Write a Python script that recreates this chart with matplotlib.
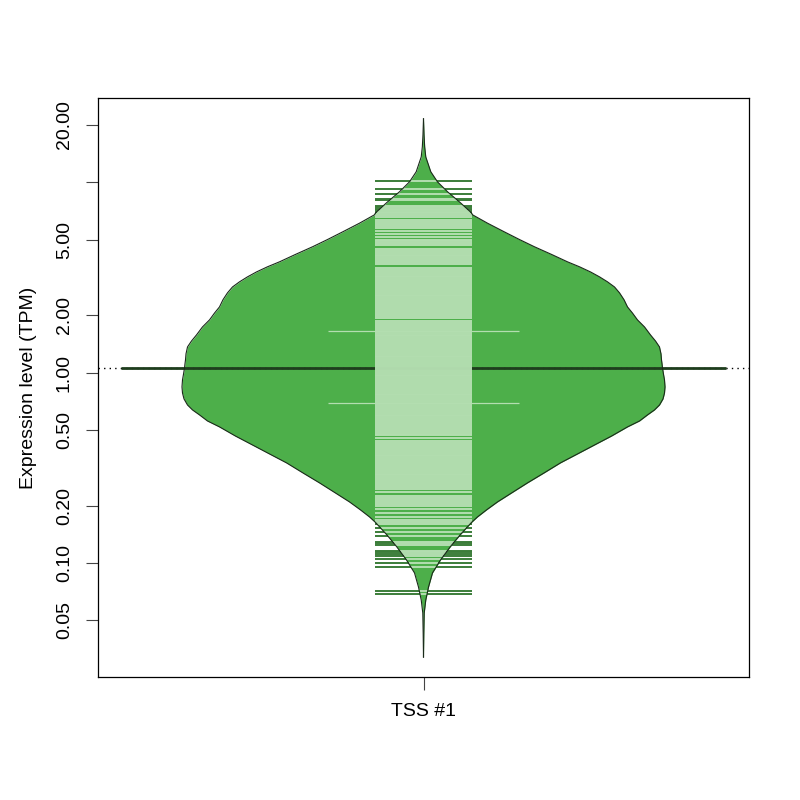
import numpy as np
import matplotlib
matplotlib.use("Agg")
import matplotlib.pyplot as plt

plt.rcParams['font.family'] = ['Liberation Sans', 'DejaVu Sans']

# bean outline: log10(TPM) level and half width (x units)
bean_log10 = [1.333, 1.25, 1.186, 1.133, 1.055, 1.002, 0.950, 0.892, 0.839,
              0.829, 0.785, 0.739, 0.699, 0.661, 0.621, 0.582, 0.556, 0.529,
              0.503, 0.477, 0.450, 0.419, 0.383, 0.345, 0.313, 0.277, 0.240,
              0.198, 0.166, 0.135, 0.099, 0.067, 0.046, 0.025, -0.007,
              -0.038, -0.075, -0.107, -0.138, -0.170, -0.196, -0.222, -0.254,
              -0.285, -0.333, -0.380, -0.427, -0.474, -0.527, -0.579, -0.629,
              -0.679, -0.721, -0.758, -0.787, -0.850, -0.913, -0.984, -1.052,
              -1.126, -1.194, -1.262, -1.367, -1.494]
bean_half = [0.0, 0.0008, 0.0018, 0.0035, 0.0112, 0.0215, 0.0369, 0.0568,
             0.0737, 0.0753, 0.0983, 0.1244, 0.1475, 0.1705, 0.1966, 0.2212,
             0.2396, 0.2565, 0.2704, 0.2826, 0.2934, 0.3011, 0.3080, 0.3134,
             0.3210, 0.3287, 0.3395, 0.3487, 0.3564, 0.3625, 0.3648, 0.3656,
             0.3664, 0.3671, 0.3686, 0.3702, 0.3710, 0.3702, 0.3679, 0.3625,
             0.3548, 0.3441, 0.3318, 0.3134, 0.2889, 0.2627, 0.2366, 0.2104,
             0.1851, 0.1598, 0.1367, 0.1137, 0.0968, 0.0829, 0.0737, 0.0568,
             0.0415, 0.0261, 0.0138, 0.0077, 0.0035, 0.0011, 0.0005, 0.0]

# individual observations (log10 TPM), one beanline each
obs_log10 = [
    1.009, 0.964, 0.937, 0.913, 0.908, 0.876, 0.868, 0.860, 0.852, 0.846,
    0.84, 0.83, 0.818, 0.802, 0.79, 0.78, 0.77, 0.758, 0.744, 0.730, 0.714,
    0.698, 0.69, 0.68, 0.668, 0.652, 0.64, 0.63, 0.62, 0.61, 0.60, 0.59, 0.58,
    0.568, 0.552, 0.54, 0.53, 0.52, 0.51, 0.50, 0.49, 0.48, 0.47, 0.46, 0.45,
    0.44, 0.43, 0.42, 0.41, 0.40, 0.39, 0.38, 0.37, 0.36, 0.35, 0.34, 0.33,
    0.32, 0.31, 0.30, 0.287, 0.273, 0.26, 0.25, 0.24, 0.23, 0.22, 0.21, 0.20,
    0.19, 0.18, 0.17, 0.16, 0.15, 0.14, 0.13, 0.12, 0.11, 0.10, 0.09, 0.08,
    0.07, 0.06, 0.05, 0.04, 0.03, 0.02, 0.01, 0.00, -0.01, -0.02, -0.03,
    -0.04, -0.05, -0.06, -0.07, -0.08, -0.09, -0.10, -0.11, -0.12, -0.13,
    -0.14, -0.15, -0.16, -0.17, -0.18, -0.19, -0.20, -0.21, -0.22, -0.23,
    -0.24, -0.25, -0.26, -0.27, -0.28, -0.29, -0.30, -0.31, -0.32, -0.33,
    -0.342, -0.358, -0.37, -0.38, -0.39, -0.40, -0.41, -0.42, -0.43, -0.44,
    -0.45, -0.46, -0.47, -0.48, -0.49, -0.50, -0.51, -0.52, -0.53, -0.54,
    -0.55, -0.56, -0.57, -0.58, -0.59, -0.60, -0.612, -0.628, -0.646, -0.66,
    -0.67, -0.68, -0.69, -0.698, -0.718, -0.739, -0.757, -0.775, -0.785,
    -0.795, -0.816, -0.835, -0.858, -0.888, -0.895, -0.905, -0.935, -0.944,
    -0.953, -0.963, -0.979, -1.002, -1.019, -1.146, -1.164]

mean_tpm = 1.058
quantile_tpm = [1.656, 0.693]

category = "TSS #1"
ytick_vals = [0.05, 0.1, 0.2, 0.5, 1, 2, 5, 10, 20]
ytick_labels = ["0.05", "0.10", "0.20", "0.50", "1.00", "2.00", "5.00", "", "20.00"]

fill_col = "#4DAF4A"
light_col = "#B3DEB0"
dark_col = "#3B7D39"
avg_col = "#1E3D1D"

fig = plt.figure(figsize=(8, 8), dpi=100)
ax = fig.add_axes([0.1225, 0.15375, 0.81375, 0.72375])
ax.set_yscale("log")
ax.set_xlim(0.5, 1.5)
ax.set_ylim(0.0252, 27.7)

pos = 1
bv = 10 ** np.array(bean_log10)
bw = np.array(bean_half)
ax.fill_betweenx(bv, pos - bw, pos + bw, color=fill_col, lw=0, zorder=1)

# overall average (dotted) and bean average line
ax.axhline(mean_tpm, color="black", lw=1, linestyle=(0, (1, 3)), zorder=2)
ax.hlines(mean_tpm, pos - 0.464, pos + 0.464, colors=avg_col, lw=2, zorder=3)
ax.hlines(quantile_tpm, pos - 0.147, pos + 0.147, colors=light_col, lw=0.9, zorder=3)

# beanlines, light inside the bean, dark outside
half = 0.0745
ov = np.array(obs_log10)
w_at = np.interp(ov, bean_log10[::-1], bean_half[::-1])
inner = np.minimum(w_at, half)
oy = 10 ** ov
ax.hlines(oy, pos - inner, pos + inner, colors=light_col, lw=1.4, zorder=4)
out = inner < half
ax.hlines(oy[out], pos - half, pos - inner[out], colors=dark_col, lw=1.4, zorder=4)
ax.hlines(oy[out], pos + inner[out], pos + half, colors=dark_col, lw=1.4, zorder=4)

ax.plot(pos - bw, bv, color="#1a2a1a", lw=0.8, zorder=5)
ax.plot(pos + bw, bv, color="#1a2a1a", lw=0.8, zorder=5)

ax.set_yticks(ytick_vals)
ax.set_yticklabels(ytick_labels, rotation=90, va="center", fontsize=14)
ax.yaxis.set_minor_locator(matplotlib.ticker.NullLocator())
ax.set_xticks([pos])
ax.set_xticklabels([category], fontsize=14)
ax.tick_params(axis="both", length=9, width=0.8, color="#444444", pad=9)
ax.tick_params(axis="x", pad=10)
ax.set_ylabel("Expression level (TPM)", fontsize=14, labelpad=14)
for s in ax.spines.values():
    s.set_linewidth(0.9)

fig.savefig("out.png", dpi=100)
